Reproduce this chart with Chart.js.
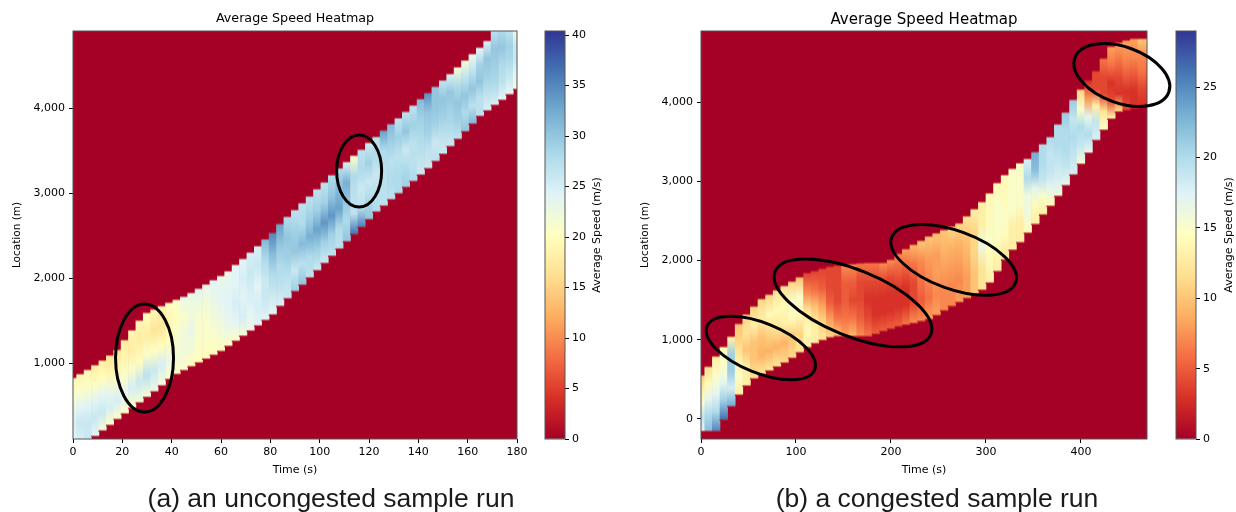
<!DOCTYPE html>
<html><head><meta charset="utf-8">
<script src="https://cdn.jsdelivr.net/npm/chart.js@4"></script>
<style>
html,body{margin:0;padding:0;background:#fff;width:1236px;height:512px;overflow:hidden}
canvas{position:absolute;top:0;filter:blur(0.45px)}
.cap{position:absolute;top:483px;font:26.5px "Liberation Sans",Arial,sans-serif;color:#1a1a1a;white-space:nowrap;transform:translateX(-50%)}
</style></head><body>
<canvas id="heatA" width="618" height="512" style="left:0"></canvas>
<canvas id="barA" width="88" height="512" style="left:530px"></canvas>
<canvas id="heatB" width="618" height="512" style="left:618px"></canvas>
<canvas id="barB" width="75" height="512" style="left:1161px"></canvas>
<div class="cap" style="left:331px">(a) an uncongested sample run</div>
<div class="cap" style="left:937px">(b) a congested sample run</div>
<script>
const titleText = "Average Speed Heatmap";
const colormap = ["#a50026","#d73027","#f46d43","#fdae61","#fee090","#ffffbf","#e0f3f8","#abd9e9","#74add1","#4575b4","#313695"];

const xTicksA = [0,20,40,60,80,100,120,140,160,180];
const yTicksA = [1000,2000,3000,4000];
const barTicksA = [0,5,10,15,20,25,30,35,40];
const xTicksB = [0,100,200,300,400];
const yTicksB = [0,1000,2000,3000,4000];
const barTicksB = [0,5,10,15,20,25];

// Panel (a): time column, band edges (m), speeds across the band, low edge to high edge (m/s)
const timesA = [0,3,6,9,12,15,18,21,24,27,30,33,36,39,42,45,48,51,54,57,60,63,66,69,72,75,78,81,84,87,90,93,96,99,102,105,108,111,114,117,120,123,126,129,132,135,138,141,144,147,150,153,156,159,162,165,168,171,174,177,180];
const hiA = [835,880,930,985,1040,1100,1165,1280,1395,1510,1600,1640,1680,1720,1755,1790,1835,1885,1935,1985,2035,2090,2165,2235,2310,2385,2465,2540,2645,2730,2810,2890,2970,3055,3135,3220,3300,3375,3450,3520,3600,3670,3745,3820,3890,3965,4040,4115,4185,4260,4335,4410,4490,4570,4645,4720,4800,4906,4906,4906,4906];
const loA = [106,106,106,130,195,260,330,395,460,525,590,655,725,800,860,905,950,995,1040,1085,1130,1190,1250,1310,1370,1430,1495,1560,1660,1750,1835,1910,1995,2080,2165,2250,2335,2420,2505,2590,2680,2770,2840,2915,2985,3060,3130,3205,3280,3365,3450,3540,3625,3715,3805,3895,3960,4025,4085,4150,4212];
const speedsA = [
[24,25,23,21,19],[25,26,24,21,19],[26,26,24,21,19],[24,26,24,20,18],[22,26,24,20,18],[21,25,23,19,17],[21,25,22,19,17],[21,24,21,19,18],[21,25,21,18,19],[22,26,20,18,19],
[22,27,21,18,20],[23,26,20,17,19],[22,25,20,17,19],[21,23,20,19,20],[21,22,21,20,21],[21,22,22,21,23],[20,22,23,22,23],[20,21,21,22,24],[20,21,21,22,23],[20,21,22,23,24],
[20,22,23,24,23],[21,23,24,24,23],[21,24,25,24,24],[22,25,24,25,24],[23,24,25,26,25],[24,25,24,26,25],[24,26,26,28,31],[24,26,28,31,35],[25,27,28,30,33],[26,27,29,30,28],
[29,26,30,29,27],[30,27,31,28,27],[27,28,32,29,27],[26,29,33,29,27],[26,29,34,29,27],[27,29,34,30,28],[27,28,33,31,28],[30,28,30,32,25],[36,27,27,28,21],[35,27,26,28,27],
[30,28,26,29,26],[28,27,26,28,27],[27,27,27,28,33],[27,28,27,29,31],[28,28,27,29,27],[29,28,26,30,27],[28,27,27,29,27],[26,27,28,29,31],[26,27,29,30,34],[27,26,29,30,30],
[26,27,29,30,27],[26,28,29,30,25],[27,29,30,28,22],[30,28,30,27,22],[31,27,30,27,23],[27,27,30,29,24],[25,27,29,30,25],[25,28,29,30,27],[24,27,28,30,28],[24,26,28,29,27],[22,24,26,26,22]];

// Panel (b)
const timesB = [0,8,16,24,32,40,48,56,64,72,80,88,96,104,112,120,128,136,144,152,160,168,176,184,192,200,208,216,224,232,240,248,256,264,272,280,288,296,304,312,320,328,336,344,352,360,368,376,384,392,400,408,416,424,432,440,448,456,464,472];
const hiB = [560,670,800,920,1050,1210,1330,1430,1525,1580,1635,1690,1745,1800,1850,1875,1905,1930,1945,1955,1965,1975,1980,1980,1980,2020,2095,2155,2210,2260,2315,2355,2395,2440,2480,2570,2660,2750,2860,2990,3090,3170,3240,3295,3380,3480,3570,3730,3880,4040,4170,4280,4400,4560,4710,4760,4790,4811,4811,4811];
const loB = [-164,-164,-164,-20,150,295,410,500,555,600,650,700,760,830,895,945,985,1020,1035,1035,1035,1035,1035,1065,1100,1130,1160,1180,1200,1225,1250,1300,1360,1415,1465,1515,1565,1620,1710,1855,2000,2125,2220,2340,2450,2570,2680,2805,2940,3075,3210,3350,3510,3640,3780,3870,3890,3915,3945,3965];
const speedsB = [
[17,19,15,13,11],[22,20,17,14,12],[25,20,17,15,13],[26,21,17,15,14],[23,18,21,21,13],[13,15,13,11,10],[13,13,10,12,11],[12,10,10,13,11],[12,9,10,13,11],[12,9,11,14,11],
[12,9,12,14,12],[11,9,13,14,12],[11,10,14,15,11],[12,11,14,15,10],[13,14,12,7,4],[13,13,10,6,4],[12,11,8,5,4],[11,8,5,4,4],[10,6,4,4,4],[8,6,5,5,7],
[9,6,4,5,7],[7,5,4,4,6],[6,4,3,4,6],[5,3,3,4,6],[5,3,3,4,7],[5,3,3,4,7],[5,3,3,5,7],[6,3,3,5,8],[7,4,4,6,9],[7,5,6,7,10],
[8,6,7,8,10],[8,7,8,8,10],[7,7,8,9,10],[7,7,8,9,11],[8,7,8,9,11],[8,8,9,10,12],[10,10,11,11,13],[12,12,16,13,13],[13,14,15,14,14],[13,14,15,15,14],
[12,14,15,14,14],[13,13,15,15,15],[13,13,15,15,15],[14,16,16,20,18],[13,14,17,22,23],[13,15,19,20,20],[14,17,19,19,20],[16,18,19,20,20],[17,19,20,20,21],[18,19,20,19,21],
[16,19,20,15,11],[17,20,17,8,3],[18,19,13,4,4],[15,12,4,4,6],[13,4,3,6,8],[11,3,4,6,8],[4,3,5,7,8],[3,3,5,7,8],[3,4,6,7,10],[3,4,6,7,11]];

// Hand-drawn ellipses: centre in data units, radii (px), tilt (deg)
const ringsA = [{t:29,loc:1059,a:29,b:54,tilt:0},{t:116,loc:3259,a:22.5,b:36,tilt:0}];
const ringsB = [{t:63,loc:896,a:58,b:25,tilt:22},{t:160,loc:1465,a:84,b:33,tilt:22},{t:266,loc:2008,a:66,b:29,tilt:20},{t:443,loc:4343,a:50,b:28,tilt:20}];

Chart.defaults.font.family = '"DejaVu Sans"';
Chart.defaults.color = '#000';
Chart.defaults.animation = false;

function hexRgb(h){return [1,3,5].map(i=>parseInt(h.substr(i,2),16));}
function speedColor(v,max){
  const f=Math.min(Math.max(v/max,0),1)*(colormap.length-1), i=Math.min(Math.floor(f),colormap.length-2), k=f-i;
  const a=hexRgb(colormap[i]),b=hexRgb(colormap[i+1]);
  return `rgb(${a.map((c,j)=>Math.round(c+(b[j]-c)*k)).join(',')})`;
}
const fixTicks = vals => s => { s.ticks = vals.map(v=>({value:v})); };
const fmt = v => Number(v).toLocaleString('en-US');
const frame={id:'frame',
  beforeDatasetsDraw(c,_,o){ if(!o.fill) return; const a=c.chartArea; c.ctx.save(); c.ctx.fillStyle=o.fill; c.ctx.fillRect(a.left,a.top,a.right-a.left,a.bottom-a.top); c.ctx.restore(); },
  afterDatasetsDraw(c,_,o){
    const a=c.chartArea,x=c.ctx; x.save();
    x.strokeStyle='#555'; x.lineWidth=1; x.strokeRect(a.left,a.top,a.right-a.left,a.bottom-a.top);
    (o.rings||[]).forEach(r=>{
      x.beginPath(); x.strokeStyle='#000'; x.lineWidth=3;
      x.ellipse(c.scales.x.getPixelForValue(r.t),c.scales.y.getPixelForValue(r.loc),r.a,r.b,r.tilt*Math.PI/180,0,Math.PI*2); x.stroke();
    });
    if(o.label){ x.translate(o.labelX,(a.top+a.bottom)/2); x.rotate(-Math.PI/2); x.font='11px "DejaVu Sans"'; x.fillStyle='#000'; x.textAlign='center'; x.textBaseline='middle'; x.fillText(o.label,0,0); }
    x.restore();
  }};

function heat(id,times,lo,hi,speeds,sMax,xMax,yMin,yMax,xTicks,yTicks,rings,leftW,rightPad,titleSize,yTitlePad){
  new Chart(document.getElementById(id),{
    type:'bar',
    data:{datasets:[{
      data:times.map((t,i)=>({x:t,y:[lo[i],hi[i]]})),
      barPercentage:1,categoryPercentage:1,
      backgroundColor(ctx){
        const i=ctx.dataIndex; if(i===undefined) return '#a50026';
        const c=ctx.chart,y=c.scales.y,top=y.getPixelForValue(hi[i]),bot=y.getPixelForValue(lo[i]);
        if(!c.chartArea||!isFinite(top)||!isFinite(bot)) return '#a50026';
        const g=c.ctx.createLinearGradient(0,top,0,bot),h=Math.max(bot-top,1),f=2.2/h,s=speeds[i];
        const ft=hi[i]>=yMax?0:f,fb=lo[i]<=yMin?0:f;
        if(ft) g.addColorStop(0,speedColor(1,sMax));
        s.slice().reverse().forEach((v,k)=>g.addColorStop(ft+(1-ft-fb)*k/(s.length-1),speedColor(v,sMax)));
        if(fb) g.addColorStop(1,speedColor(1,sMax));
        return g;
      }
    }]},
    options:{responsive:false,devicePixelRatio:1,
      layout:{padding:{left:0,top:0,right:rightPad,bottom:0}},
      plugins:{legend:{display:false},tooltip:{enabled:false},
        title:{display:true,text:titleText,fullSize:false,font:{size:titleSize,weight:'normal'},color:'#000',padding:{top:11,bottom:31-11-titleSize*1.2}},
        frame:{fill:'#a50026',rings}},
      scales:{
        x:{type:'linear',min:0,max:xMax,offset:false,grid:{display:true,offset:false,drawOnChartArea:false,drawTicks:true,tickLength:4,color:'#000'},border:{display:false},
          afterBuildTicks:fixTicks(xTicks),
          ticks:{maxRotation:0,autoSkip:false,font:{size:11},padding:3,callback:fmt},
          title:{display:true,text:'Time (s)',font:{size:11},padding:{top:0,bottom:35}},
          afterFit(s){s.height=73;}},
        y:{type:'linear',min:yMin,max:yMax,grid:{display:true,drawOnChartArea:false,drawTicks:true,tickLength:4,color:'#000'},border:{display:false},
          afterBuildTicks:fixTicks(yTicks),
          ticks:{autoSkip:false,font:{size:11},padding:4,callback:fmt},
          title:{display:true,text:'Location (m)',font:{size:10.5},padding:{top:yTitlePad,bottom:0}},
          afterFit(s){s.width=leftW;}}
      }},
    plugins:[frame]});
}
function bar(id,sMax,ticks,leftPad,w,labelX){
  new Chart(document.getElementById(id),{
    type:'bar',
    data:{labels:[''],datasets:[{data:[[0,sMax]],barPercentage:1,categoryPercentage:1,
      backgroundColor(ctx){
        const c=ctx.chart,a=c.chartArea; if(!a) return '#a50026';
        const g=c.ctx.createLinearGradient(0,a.bottom,0,a.top);
        colormap.forEach((h,i)=>g.addColorStop(i/(colormap.length-1),h));
        return g;
      }}]},
    options:{responsive:false,devicePixelRatio:1,
      layout:{padding:{left:leftPad,top:31,right:0,bottom:73}},
      plugins:{legend:{display:false},tooltip:{enabled:false},frame:{label:'Average Speed (m/s)',labelX}},
      scales:{
        x:{display:false},
        y:{position:'right',min:0,max:sMax,grid:{display:true,drawOnChartArea:false,drawTicks:true,tickLength:4,color:'#000'},border:{display:false},
          afterBuildTicks:fixTicks(ticks),
          ticks:{autoSkip:false,font:{size:11},padding:3},
          afterFit(s){s.width=w;}}
      }},
    plugins:[frame]});
}
const speedMaxA=40.4, speedMaxB=29;
heat('heatA',timesA,loA,hiA,speedsA,speedMaxA,180,106,4906,xTicksA,yTicksA,ringsA,73,101,12.7,11);
bar('barA',speedMaxA,barTicksA,15,53,67);
heat('heatB',timesB,loB,hiB,speedsB,speedMaxB,469.5,-253,4899,xTicksB,yTicksB,ringsB,83,89,15,21);
bar('barB',speedMaxB,barTicksB,15,40,68);
</script>
</body></html>
